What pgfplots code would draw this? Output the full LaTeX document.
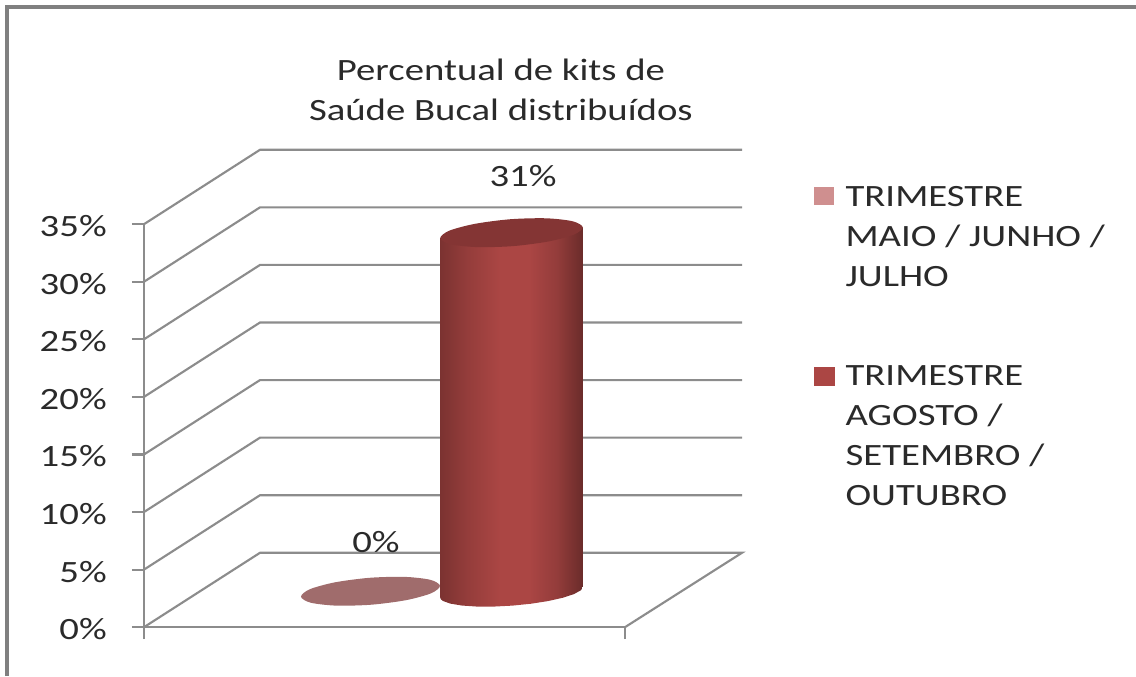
\documentclass[border=0pt]{standalone}
\usepackage{fontspec}
\setmainfont[FakeStretch=1.25]{Carlito}
\usepackage{pgfplots}
\pgfplotsset{compat=1.18}
\definecolor{gridgray}{HTML}{8C8C8C}
\definecolor{framegray}{HTML}{808080}
\definecolor{txt}{HTML}{2A2A2A}
\definecolor{legA}{HTML}{CF8F8F}
\definecolor{legB}{HTML}{AB4644}
\definecolor{flat}{HTML}{A06C6C}
\definecolor{topface}{HTML}{843534}
\pgfdeclarehorizontalshading{cyl}{100bp}{
  color(0bp)=(black!28!legB);
  color(25bp)=(black!28!legB);
  color(34bp)=(black!14!legB);
  color(46bp)=(legB);
  color(56bp)=(legB);
  color(66bp)=(black!14!legB);
  color(75bp)=(black!38!legB);
  color(100bp)=(black!38!legB)}
\AtBeginDocument{\fontsize{23.25pt}{30pt}\selectfont\color{txt}}
\begin{document}
\begin{tikzpicture}
\begin{axis}[
    scale only axis,
    width=360.75pt,
    height=302.25pt,
    xmin=144, xmax=625,
    ymin=0, ymax=35,
    clip=false,
    axis lines=left,
    axis line style={-,draw=gridgray,line width=1.6pt},
    tick align=outside,
    major tick length=9pt,
    tick style={draw=gridgray,line width=1.6pt},
    xtick={144,625},
    xticklabels={,,},
    ytick={0,5,10,15,20,25,30,35},
    yticklabel={\pgfmathprintnumber{\tick}\%},
    yticklabel style={anchor=east,inner sep=0pt,xshift=-18.75pt,yshift=-1.5pt},
    /pgf/number format/assume math mode=true,
    title={Percentual de kits de\\Saúde Bucal distribuídos},
    title style={at={(0.742,1.313)},anchor=center,align=center,inner sep=0pt},
    legend style={
        at={(1.393,1.114)},anchor=north west,draw=none,fill=none,
        inner sep=0pt,outer sep=0pt,
        nodes={inner sep=0pt},
        cells={anchor=base west},
        row sep=110.25pt,column sep=8.25pt},
]
% back wall and floor of the 3D box
\addplot[forget plot,gridgray,line width=1.6pt] coordinates {(144,35) (260,41.46) (742,41.46)};
\addplot[forget plot,gridgray,line width=1.6pt] coordinates {(144,30) (260,36.46) (742,36.46)};
\addplot[forget plot,gridgray,line width=1.6pt] coordinates {(144,25) (260,31.46) (742,31.46)};
\addplot[forget plot,gridgray,line width=1.6pt] coordinates {(144,20) (260,26.46) (742,26.46)};
\addplot[forget plot,gridgray,line width=1.6pt] coordinates {(144,15) (260,21.46) (742,21.46)};
\addplot[forget plot,gridgray,line width=1.6pt] coordinates {(144,10) (260,16.46) (742,16.46)};
\addplot[forget plot,gridgray,line width=1.6pt] coordinates {(144,5) (260,11.46) (742,11.46)};
\addplot[forget plot,gridgray,line width=1.6pt] coordinates {(144,0) (260,6.46) (742,6.46) (625,0)};

% 0% series: flat disc on the floor
\addplot[fill=flat,draw=none,/tikz/smooth cycle,
    legend image code/.code={\fill[legA] (0pt,0.75pt) rectangle (15pt,14.25pt);}]
    coordinates {(440,3.595) (430.2,4.115) (404.4,4.369) (369.5,4.287) (334.9,3.893) (309.8,3.293)
                 (301,2.645) (310.8,2.125) (336.6,1.871) (371.5,1.953) (406.1,2.347) (431.2,2.947)};
\addlegendentry{\begin{tabular}[t]{@{}l@{}}TRIMESTRE\\MAIO / JUNHO /\\JULHO\end{tabular}}

% 31% series: cylinder body, then its top face
\addplot[forget plot,shading=cyl,draw=none]
    coordinates {(440.2,33.78) (582.8,34.73) (582.8,3.515) (582.3,3.358) (580.7,3.197) (573.8,2.867)
                 (562.6,2.551) (548,2.267) (531,2.036) (512.5,1.873) (494,1.79) (476.75,1.791)
                 (461.8,1.879) (450.3,2.045) (442.9,2.279) (441,2.416) (440.2,2.565)} --cycle;
\addplot[forget plot,fill=topface,draw=none,/tikz/smooth cycle]
    coordinates {(582.8,34.73) (572.7,35.25) (546.25,35.51) (510.5,35.43) (475,35.03) (449.2,34.43)
                 (440.2,33.78) (450.3,33.26) (476.75,33.01) (512.5,33.09) (548,33.49) (573.8,34.09)};
\addlegendimage{legend image code/.code={\fill[legB] (0pt,0.75pt) rectangle (15pt,14.25pt);}}
\addlegendentry{\begin{tabular}[t]{@{}l@{}}TRIMESTRE\\AGOSTO /\\SETEMBRO /\\OUTUBRO\end{tabular}}

\node[anchor=base,inner sep=0pt] at (axis cs:376,6.52) {0\%};
\node[anchor=base,inner sep=0pt] at (axis cs:523,38.25) {31\%};

% picture frame: only top and left edges are visible
\draw[framegray,line width=2.3pt] (axis cs:7,-4.25) -- (axis cs:7,53.86) -- (axis cs:1136,53.86);
\coordinate (pagesw) at (axis cs:0,-4.25);
\coordinate (pagene) at (axis cs:1136,54.47);
\end{axis}
\pgfresetboundingbox
\path (pagesw) rectangle (pagene);
\end{tikzpicture}
\end{document}
